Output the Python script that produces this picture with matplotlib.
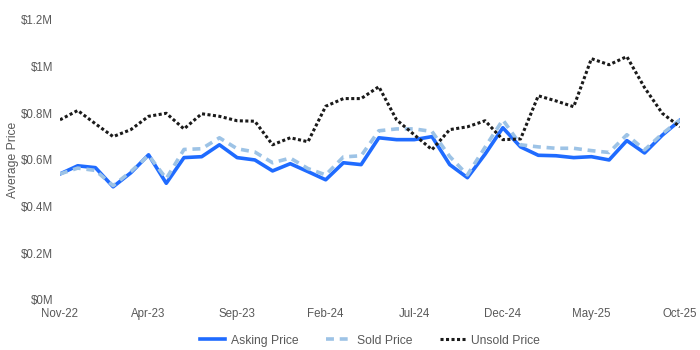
import numpy as np
import matplotlib
matplotlib.use("Agg")
import matplotlib.pyplot as plt
from matplotlib.ticker import FuncFormatter

# monthly series, Nov-22 .. Oct-25
months = ["Nov-22", "Dec-22", "Jan-23", "Feb-23", "Mar-23", "Apr-23", "May-23", "Jun-23",
          "Jul-23", "Aug-23", "Sep-23", "Oct-23", "Nov-23", "Dec-23", "Jan-24", "Feb-24",
          "Mar-24", "Apr-24", "May-24", "Jun-24", "Jul-24", "Aug-24", "Sep-24", "Oct-24",
          "Nov-24", "Dec-24", "Jan-25", "Feb-25", "Mar-25", "Apr-25", "May-25", "Jun-25",
          "Jul-25", "Aug-25", "Sep-25", "Oct-25"]

asking = [540000, 575000, 567000, 485000, 545000, 622000, 500000, 610000, 614000, 665000,
          610000, 600000, 553000, 584000, 550000, 515000, 588000, 580000, 695000, 687000,
          687000, 700000, 580000, 524000, 625000, 738000, 656000, 620000, 618000, 610000,
          614000, 600000, 683000, 630000, 706000, 770000]

sold = [540000, 565000, 555000, 490000, 550000, 620000, 520000, 645000, 648000, 695000,
        648000, 634000, 588000, 608000, 563000, 536000, 613000, 618000, 725000, 733000,
        733000, 722000, 615000, 536000, 655000, 772000, 665000, 656000, 650000, 650000,
        640000, 632000, 708000, 643000, 712000, 772000]

unsold = [772000, 812000, 755000, 700000, 730000, 787000, 800000, 733000, 798000, 787000,
          768000, 766000, 665000, 695000, 678000, 830000, 863000, 863000, 914000, 772000,
          708000, 644000, 730000, 742000, 768000, 687000, 690000, 875000, 853000, 828000,
          1034000, 1008000, 1043000, 910000, 800000, 742000]

tick_every = 5

x = np.arange(len(months))
fam = ['Liberation Sans', 'DejaVu Sans']
plt.rcParams['font.family'] = fam

fig = plt.figure(figsize=(7, 3.5), dpi=100)
ax = fig.add_axes([0.0857, 0.143, 0.8857, 0.8])

ax.plot(x, asking, color="#1F6BFF", lw=2.6, label="Asking Price")
ax.plot(x, sold, color="#9DC3E6", lw=2.6, ls=(0, (2.2, 1.6)), label="Sold Price")
ax.plot(x, unsold, color="#1a1a1a", lw=2.2, ls=(0, (1, 0.8)), label="Unsold Price")

ax.set_xlim(0, len(months) - 1)
ax.set_ylim(0, 1200000)
ax.set_xticks(x[::tick_every])
ax.set_xticklabels(months[::tick_every])
ax.set_yticks(np.arange(0, 1200001, 200000))


def fmt_money(v, pos):
    m = v / 1e6
    if abs(m - round(m)) < 1e-9:
        return f"${int(round(m))}M"
    return f"${m:.1f}M"


ax.yaxis.set_major_formatter(FuncFormatter(fmt_money))

for s in ax.spines.values():
    s.set_visible(False)
ax.tick_params(length=0, colors="#595959", labelsize=8.3)
ax.tick_params(axis="x", pad=6)
ax.tick_params(axis="y", pad=5)

ax.set_ylabel("Average Price", color="#595959", fontsize=8.7)
ax.yaxis.set_label_coords(-0.066, 0.5)

leg = ax.legend(loc="center", bbox_to_anchor=(0.5, -0.145), ncol=3, frameon=False,
                handlelength=2.1, columnspacing=2.3, handletextpad=0.45,
                prop={'family': fam, 'size': 8.7})
for t in leg.get_texts():
    t.set_color("#595959")

fig.savefig("out.png", dpi=100)
